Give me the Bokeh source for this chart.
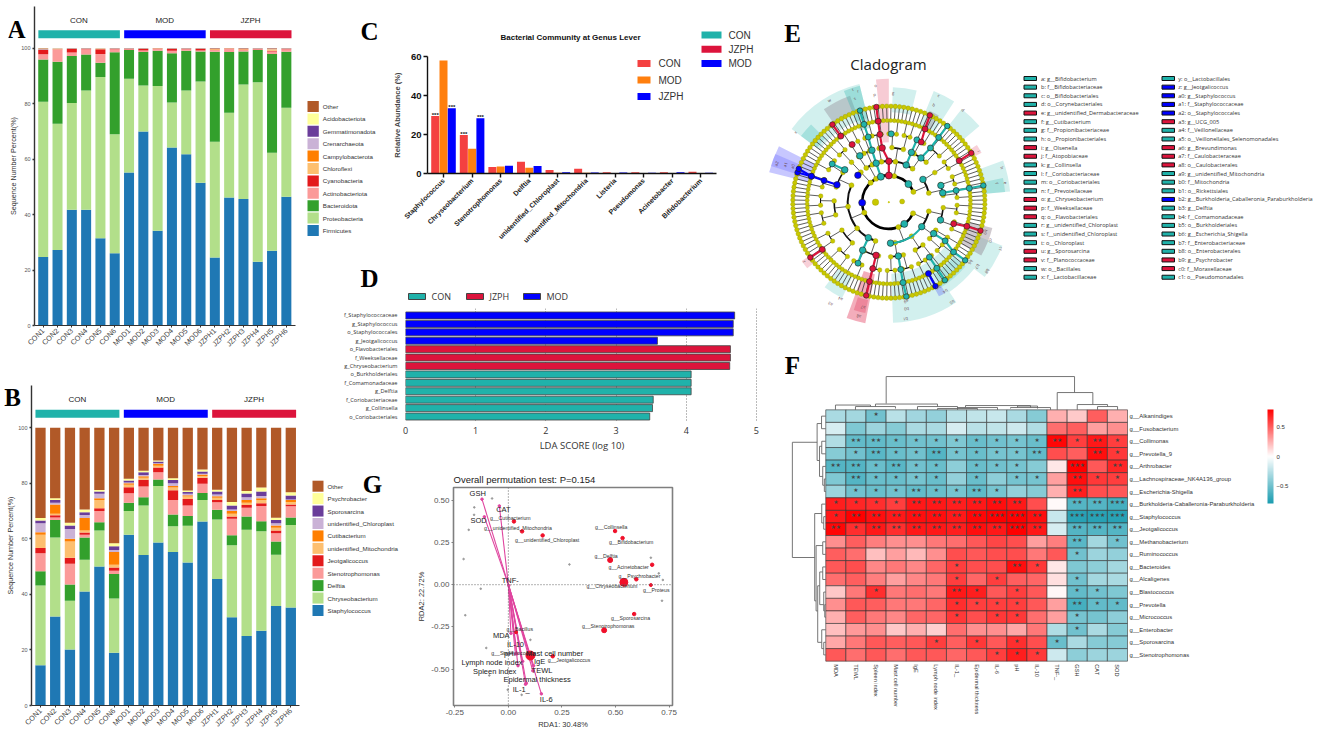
import math
import numpy as np
from bokeh.plotting import figure
from bokeh.models import Column, FixedTicker, LinearColorMapper, ColorBar, Span, ColumnDataSource
from bokeh.core.properties import value
from bokeh.embed import file_html
from bokeh.resources import INLINE

# ---------- data: panels A / B ----------
samples = ["CON1","CON2","CON3","CON4","CON5","CON6","MOD1","MOD2","MOD3","MOD4","MOD5","MOD6",
           "JZPH1","JZPH2","JZPH3","JZPH4","JZPH5","JZPH6"]
group_names = ["CON","MOD","JZPH"]
group_first = [0,6,12]
group_last = [5,11,17]
group_colors = ["#20B2AA","#0000FF","#DC143C"]
paired = ["#1f78b4","#b2df8a","#33a02c","#fb9a99","#e31a1c","#fdbf6f","#ff7f00","#cab2d6","#6a3d9a","#ffff99","#b15928"]

a_names = ["Firmicutes","Proteobacteria","Bacteroidota","Actinobacteriota","Cyanobacteria","Chloroflexi",
           "Campylobacterota","Crenarchaeota","Gemmatimonadota","Acidobacteriota","Other"]
a_firmicutes = [24.7,27.2,41.8,41.8,31.5,26.1,55.2,70.0,34.2,64.2,61.8,51.5,24.5,46.2,45.6,23.0,27.0,46.5]
a_proteo = [80.7,72.8,80.3,84.8,89.7,69.0,89.0,86.6,86.4,80.5,84.8,88.0,66.3,76.8,87.0,87.8,62.3,78.6]
a_bactero = [96.0,95.2,97.2,97.8,94.8,98.6,99.4,98.7,99.1,98.2,99.1,98.9,98.8,98.7,98.9,99.4,98.0,98.8]
a_actino = [97.9,99.6,98.5,99.7,98.0,99.7,99.7,99.2,99.8,99.1,99.7,99.2,99.4,99.8,99.5,99.7,98.9,99.7]
a_cyano = [99.4,99.7,99.8,99.8,99.7,99.8,99.8,99.8,99.9,99.8,99.8,99.8,99.5,99.9,99.6,99.8,99.1,99.8]
a_chloro = [99.5,99.75,99.85,99.85,99.75,99.85,99.85,99.85,99.92,99.85,99.85,99.85,99.7,99.92,99.7,99.85,99.6,99.85]
a_campy = [99.6,99.8,99.88,99.88,99.8,99.88,99.88,99.88,99.94,99.88,99.88,99.88,99.75,99.94,99.75,99.88,99.7,99.88]
a_cren = [99.7,99.85,99.9,99.9,99.85,99.9,99.9,99.9,99.95,99.9,99.9,99.9,99.8,99.95,99.8,99.9,99.8,99.9]
a_gemm = [99.8,99.9,99.93,99.93,99.9,99.93,99.93,99.93,99.96,99.93,99.93,99.93,99.85,99.96,99.85,99.93,99.85,99.93]
a_acido = [99.9,99.95,99.96,99.96,99.95,99.96,99.96,99.96,99.98,99.96,99.96,99.96,99.9,99.98,99.9,99.96,99.9,99.96]
a_other = [100.0]*18
a_tops = [a_firmicutes,a_proteo,a_bactero,a_actino,a_cyano,a_chloro,a_campy,a_cren,a_gemm,a_acido,a_other]

b_names = ["Staphylococcus","Chryseobacterium","Delftia","Stenotrophomonas","Jeotgalicoccus","unidentified_Mitochondria",
           "Cutibacterium","unidentified_Chloroplast","Sporosarcina","Psychrobacter","Other"]
b_staph = [14.5,32.0,20.2,41.0,50.0,19.0,61.5,54.2,58.7,55.3,51.5,66.2,45.5,31.8,25.0,26.9,35.8,35.3]
b_chryseo = [43.2,60.5,37.7,52.5,63.0,38.5,70.0,72.0,79.0,64.5,64.7,74.0,67.0,57.7,63.3,62.7,54.3,65.0]
b_delftia = [48.3,66.8,43.6,60.5,66.0,47.3,73.0,75.0,81.4,68.8,68.2,76.5,70.5,61.3,68.0,66.3,59.0,67.7]
b_steno = [54.8,67.7,51.0,61.5,70.0,48.5,76.4,78.8,84.0,74.0,72.0,79.8,73.2,67.2,71.2,71.8,62.0,71.7]
b_jeot = [56.7,68.5,53.2,62.3,71.0,49.7,78.6,81.3,85.7,77.5,74.3,82.0,74.0,68.0,72.2,72.8,63.0,72.4]
b_mito = [61.5,69.0,59.0,63.0,74.0,50.7,79.5,82.0,86.3,78.5,75.2,82.6,74.8,69.0,73.0,74.0,64.0,73.3]
b_cuti = [62.4,72.4,60.0,67.5,74.6,55.3,80.0,82.5,87.0,79.0,75.7,83.2,75.3,70.0,74.0,74.6,64.8,74.0]
b_chloro = [65.6,73.0,63.5,68.6,76.2,56.0,80.3,83.0,87.2,80.0,76.2,83.4,76.0,70.6,75.0,75.4,65.6,74.2]
b_sporo = [66.6,74.0,64.8,69.6,77.0,57.3,81.0,84.0,87.8,81.2,76.9,84.2,77.0,72.0,76.3,77.0,66.8,75.6]
b_psych = [67.5,74.6,65.8,70.6,77.6,58.4,81.6,84.5,88.2,81.8,77.4,85.0,77.7,73.3,77.2,78.5,67.6,76.8]
b_other = [100.0]*18
b_tops = [b_staph,b_chryseo,b_delftia,b_steno,b_jeot,b_mito,b_cuti,b_chloro,b_sporo,b_psych,b_other]

# ---------- data: panel C ----------
c_genera = ["Staphylococcus","Chryseobacterium","Stenotrophomonas","Delftia","unidentified_Chloroplast",
            "unidentified_Mitochondria","Listeria","Pseudomonas","Acinetobacter","Bifidobacterium"]
c_con = [29.5,19.8,3.3,6.0,1.8,2.5,0.6,0.7,0.7,0.9]
c_mod = [58.0,12.7,3.6,2.9,0.4,0.4,0.3,0.2,0.2,0.2]
c_jzph = [33.5,28.3,4.0,3.8,0.6,0.5,0.5,0.4,0.6,0.4]

# ---------- data: panel D ----------
d_taxa = ["f_Staphylococcaceae","g_Staphylococcus","o_Staphylococcales","g_Jeotgalicoccus","o_Flavobacteriales",
          "f_Weeksellaceae","g_Chryseobacterium","o_Burkholderiales","f_Comamonadaceae","g_Delftia",
          "f_Coriobacteriaceae","g_Collinsella","o_Coriobacteriales"]
d_scores = [4.69,4.67,4.67,3.59,4.63,4.63,4.62,4.07,4.07,4.07,3.53,3.52,3.48]
d_groups = ["MOD","MOD","MOD","MOD","JZPH","JZPH","JZPH","CON","CON","CON","CON","CON","CON"]

# ---------- data: panel G ----------
g_env = ["GSH","CAT","SOD","TNF-","MDA","IL-10","pH","Mast cell number","Lymph node index","IgE","Spleen index","TEWL",
         "Epidermal thickness","IL-1_","IL-6"]
g_env_x = [-.123,-.042,-.112,.002,.012,.04,.033,.1,.067,.118,.045,.114,.084,.08,.154]
g_env_y = [.507,.467,.402,-.005,-.288,-.41,-.41,-.42,-.454,-.48,-.48,-.51,-.584,-.59,-.647]
g_env_lx = [-.143,-.023,-.139,.009,-.033,.033,.002,.216,-.076,.146,-.064,.157,.134,.06,.177]
g_env_ly = [.541,.448,.378,.026,-.304,-.355,-.41,-.408,-.461,-.458,-.513,-.509,-.562,-.621,-.678]
g_gen = ["g__Cutibacterium","g__unidentified_Mitochondria","g__unidentified_Chloroplast","g__Collinsella","g__Bifidobacterium",
         "g__Delftia","g__Acinetobacter","g__Psychrobacter","g__Chryseobacterium","g__Proteus","g__Sporosarcina",
         "g__Stenotrophomonas","g__Bacillus","g__Staphylococcus","g__Jeotgalicoccus"]
g_gen_x = [.026,.064,.16,.498,.533,.475,.671,.597,.539,.665,.587,.447,.036,.103,.207]
g_gen_y = [.375,.316,.292,.318,.276,.146,.118,.032,.014,-.002,-.174,-.27,-.282,-.42,-.424]
g_gen_s = [3.5,3.5,3.5,3.5,3.5,5,3.5,3.5,8,3,3.5,5,3,9,3.5]
g_gen_lx = [.009,.045,.181,.480,.573,.456,.561,.612,.483,.690,.570,.466,.053,.025,.283]
g_gen_ly = [.396,.337,.266,.339,.251,.168,.105,.051,-.010,-.032,-.199,-.246,-.262,-.405,-.446]
g_site_x = [-.076,-.159,-.160,-.185,-.209,-.129,-.201,.285,.665,.702,.721,.717,-.103,-.089,-.003,.062,.103]
g_site_y = [.511,.458,.414,.325,.152,-.024,-.181,.120,.160,.067,.028,-.095,-.375,-.538,-.623,-.653,-.327]

# ---------- data: panel E ----------
e_legend_1 = ["a: g__Bifidobacterium","b: f__Bifidobacteriaceae","c: o__Bifidobacteriales","d: o__Corynebacteriales",
 "e: g__unidentified_Dermabacteraceae","f: g__Cutibacterium","g: f__Propionibacteriaceae","h: o__Propionibacteriales",
 "i: g__Olsenella","j: f__Atopobiaceae","k: g__Collinsella","l: f__Coriobacteriaceae","m: o__Coriobacteriales",
 "n: f__Prevotellaceae","o: g__Chryseobacterium","p: f__Weeksellaceae","q: o__Flavobacteriales","r: g__unidentified_Chloroplast",
 "s: f__unidentified_Chloroplast","t: o__Chloroplast","u: g__Sporosarcina","v: f__Planococcaceae","w: o__Bacillales","x: f__Lactobacillaceae"]
e_legend_1c = "TTTTRTTTRRTTTTRRRTTTRRTT"
e_legend_2 = ["y: o__Lactobacillales","z: g__Jeotgalicoccus","a0: g__Staphylococcus","a1: f__Staphylococcaceae","a2: o__Staphylococcales",
 "a3: g__UCG_005","a4: f__Veillonellaceae","a5: o__Veillonellales_Selenomonadales","a6: g__Brevundimonas","a7: f__Caulobacteraceae",
 "a8: o__Caulobacterales","a9: g__unidentified_Mitochondria","b0: f__Mitochondria","b1: o__Rickettsiales",
 "b2: g__Burkholderia_Caballeronia_Paraburkholderia","b3: g__Delftia","b4: f__Comamonadaceae","b5: o__Burkholderiales",
 "b6: g__Escherichia_Shigella","b7: f__Enterobacteriaceae","b8: o__Enterobacterales","b9: g__Psychrobacter","c0: f__Moraxellaceae","c1: o__Pseudomonadales"]
e_legend_2c = "TBBBBRTTRRRTTTBTTTTTTRRT"
ring_r = [40,80,123,164,205,245,288]
# clade families: each number is one genus node with that many outer-ring leaves
fa = [1,1,1]; fb = [1,1]; fc = [1,1,1,1]
tree = [
 [[[fa,fb],[fb,fa]],[[fa,fb]]],
 [[[fa,fc],[fb,fa]],[[fb,fb],[fa,fb]],[[fa,fa]]],
 [[[fb],[fa]],[[fb]]],
 [[[fa,fb]]],
 [[[fa,fc],[fa,fb]],[[fc,fb],[fa,fc]],[[fa,fa],[fc,fa]],[[fb,fc],[fa,fb]]],
 [[[fa,fb],[fa,fa]],[[fb,fa],[fb]]],
 [[[fa,fb],[fc]],[[fb,fa],[fa,fb]]],
]
chains = [
 ("R",[(1,90),(2,90),(3,97),(4,97.5),(5,97.5),(6,97.5)]), ("T",[(1,107.5),(2,108),(3,108),(4,107.5),(5,107.7),(6,107.5)]),
 ("T",[(3,122)]), ("R",[(4,122.4)]), ("R",[(5,126),(6,126)]), ("T",[(3,143.7),(4,146)]),
 ("B",[(1,181)]), ("B",[(2,139)]), ("B",[(3,161.5),(4,161.5),(5,161.5),(6,162)]), ("B",[(5,161.5),(6,159.7)]),
 ("T",[(1,42.6)]), ("T",[(2,33.7)]), ("T",[(2,65),(3,65.6),(4,65.8)]), ("T",[(3,54),(4,52.5),(5,52.4),(6,52.5)]),
 ("R",[(4,61.7),(5,63.7),(6,64.7)]), ("T",[(4,88)]), ("R",[(5,30.5),(6,30.8)]), ("T",[(3,17.8)]),
 ("T",[(3,9.8),(4,9.8),(5,9.8),(6,10)]), ("T",[(1,-54.5)]), ("T",[(2,-87.7)]), ("T",[(2,-36.7)]),
 ("T",[(3,-35),(4,-34.5),(5,-37.6),(6,-37.3)]), ("T",[(3,-19)]), ("R",[(4,-18.4),(5,-17.2),(6,-17.3)]),
 ("T",[(4,-53.6),(5,-54),(6,-54.3)]), ("T",[(3,-80),(4,-80),(5,-80),(6,-79.5)]), ("B",[(5,-61),(6,-61)]),
 ("R",[(3,-103.5),(4,-103.6),(5,-103.7),(6,-103.6)]), ("T",[(2,-120),(3,-118.6),(4,-116.8)]), ("R",[(5,-144.6),(6,-144.8)]),
]
sectors = [
 (-88,-56,215,362,"T",.2),(-56,-38,215,325,"T",.2),(-38,-21,280,365,"T",.2),(-58,-40,255,300,"T",.2),(-30,-14,240,320,"G",.4),
 (153,166,240,370,"B",.22),(157,163,290,370,"B",.15),(104,143,260,365,"T",.2),(110,125,290,340,"G",.35),(135,143,270,330,"T",.25),
 (104,112,230,360,"T",.3),(90,96,180,370,"R",.22),(76,88,270,345,"T",.2),(57,68,250,360,"T",.2),(60,66,250,300,"G",.35),
 (40,52,285,355,"T",.2),(28,33,287,315,"R",.2),(5,20,280,365,"T",.2),(5,12,285,350,"T",.25),(-110,-101,220,370,"R",.35),
 (-108,-102,300,340,"R",.25),(-127,-116,250,320,"T",.2),(-146,-141,286,315,"R",.2),(-62,-58,288,320,"B",.2),
]
clade_labels = [("a2",48,430),("a1",75,433),("a0",97,438),("w",207,240),("x",105,335),("t",277,207),("s",283,234),("r",292,212),
 ("p",342,222),("o",345,195),("g",398,218),("c",535,225),("b",520,253),("d",607,268),("i",655,392),("h",725,442),("f",708,488),
 ("e",735,487),("c0",690,660),("b9",675,635),("c1",720,685),("b8",680,752),("b7",650,738),("b6",630,725),("b5",575,845),
 ("b4",555,812),("b3",533,800),("b1",435,895),("b0",438,865),("a9",437,843),("a8",295,887),("a7",308,860),("a4",240,835),("a3",210,850),("z",130,725)]

# ---------- data: panel F ----------
f_cols = ["MDA","TEWL","Spleen index","Mast cell number","IgE","Lymph node index","IL-1_","Epidermal thickness","IL-6","pH","IL-10","TNF-_","GSH","CAT","SOD"]
f_rows = ["g__Alkanindiges","g__Fusobacterium","g__Collimonas","g__Prevotella_9","g__Arthrobacter","g__Lachnospiraceae_NK4A136_group",
 "g__Escherichia-Shigella","g__Burkholderia-Caballeronia-Paraburkholderia","g__Staphylococcus","g__Jeotgalicoccus","g__Methanobacterium",
 "g__Ruminococcus","g__Bacteroides","g__Alcaligenes","g__Blastococcus","g__Prevotella","g__Micrococcus","g__Enterobacter","g__Sporosarcina","g__Stenotrophomonas"]
f_values = [
 [-.3,-.32,-.5,-.25,-.33,-.38,-.25,-.22,-.2,-.3,-.42,.25,.17,.5,.25],
 [-.15,-.45,-.35,-.42,-.3,-.3,-.15,-.25,-.22,-.18,-.28,.45,.5,.3,.35],
 [-.27,-.55,-.55,-.52,-.5,-.5,-.45,-.52,-.5,-.48,-.52,.78,.6,.72,.6],
 [-.42,-.5,-.58,-.52,-.5,-.6,-.48,-.52,-.48,-.48,-.55,.55,.5,.75,.62],
 [-.6,-.6,-.52,-.58,-.5,-.52,-.4,-.52,-.5,-.48,-.42,.08,.88,.52,.68],
 [-.45,-.6,-.52,-.52,-.48,-.52,-.38,-.52,-.4,-.48,-.48,.3,.75,.62,.6],
 [-.35,-.5,-.52,-.5,-.55,-.52,-.48,-.56,-.48,-.38,-.42,.25,.7,.55,.52],
 [.7,.68,.65,.6,.72,.72,.7,.72,.75,.72,.55,.02,-.6,-.6,-.65],
 [.72,.8,.75,.72,.75,.75,.72,.78,.85,.92,.75,-.2,-.75,-.75,-.75],
 [.78,.65,.72,.65,.72,.72,.7,.75,.72,.82,.72,-.15,-.6,-.6,-.6],
 [.35,.5,.4,.35,.35,.42,.45,.52,.58,.55,.3,.4,-.58,-.32,-.5],
 [.5,.45,.2,.3,.22,.35,.55,.52,.55,.55,.42,.52,-.5,-.35,-.38],
 [.52,.55,.38,.42,.38,.48,.6,.55,.55,.75,.62,.08,-.45,-.4,-.32],
 [.45,.5,.4,.3,.38,.42,.6,.48,.6,.5,.48,.1,-.5,-.32,-.3],
 [.18,.42,.65,.42,.45,.42,.72,.7,.52,.6,.52,.03,-.55,-.5,-.45],
 [.35,.52,.5,.42,.42,.48,.65,.6,.6,.6,.52,.3,-.65,-.55,-.55],
 [.25,.5,.42,.38,.48,.48,.62,.55,.62,.62,.45,.3,-.48,-.48,-.4],
 [.2,.32,.35,.18,.25,.15,.45,.35,.35,.28,.42,-.28,-.5,-.3,-.42],
 [.28,.42,.52,.5,.52,.6,.5,.62,.52,.65,.55,-.52,-.3,-.42,-.42],
 [.52,.45,.52,.45,.52,.52,.48,.52,.6,.7,.62,-.18,-.4,-.35,-.35],
]
f_stars = [
 [0,0,1,0,0,0,0,0,0,0,0,0,0,0,0],[0]*15,
 [0,2,2,1,1,1,1,1,1,1,1,2,1,2,1],[0,1,2,1,1,2,1,1,1,1,2,0,0,2,1],
 [2,2,1,2,1,1,0,1,1,1,0,0,3,0,2],[0,2,1,1,1,1,0,1,0,1,1,0,2,1,1],
 [0,1,1,1,2,1,1,2,1,0,0,0,2,0,0],[1,1,1,1,2,2,2,2,2,2,0,0,2,2,3],
 [1,2,2,2,2,2,2,2,3,3,2,0,3,3,3],[2,1,2,2,2,2,2,2,2,3,2,0,2,2,2],
 [0,0,0,0,0,0,0,0,0,0,0,0,2,0,1],[0,0,0,0,0,0,0,0,0,0,0,0,1,0,0],
 [0,0,0,0,0,0,1,0,0,2,1,0,0,0,0],[0,0,0,0,0,0,1,0,1,0,0,0,1,0,0],
 [0,0,1,0,0,0,2,1,0,1,0,0,1,1,0],[0,0,0,0,0,0,1,1,1,1,0,0,2,1,1],
 [0,0,0,0,0,0,1,0,1,1,0,0,1,0,0],[0,0,0,0,0,0,0,0,0,0,0,0,1,0,0],
 [0,0,0,0,0,1,0,1,0,1,0,1,0,0,0],[0,0,0,0,0,0,0,0,1,1,1,0,0,0,0],
]
dendro_top = [(885.7,1074,376,403,392),(1056.7,1092.3,392,409.3,404),(1076.7,1107,404,409.3,406),(1097,1117,406,409.3,409.3),
 (835,870,404.5,409.3,406),(855,895,406,409.3,408),(875,937,403.5,406,406),(917,957,406,409.3,408),(937,977,408,409.3,409.3),
 (965,1030,405,407,407),(957,997,407,409.3,409.3),(1010,1050,407,408,409.3),(1017,1037,405.5,407,408)]
dendro_left = [(-1.66,2.58,11.75,-.43,-.55),(-.43,1.09,4.03,-.21,-.31),(-.21,.5,1.5,0,0),(-.31,2.9,5.3,-.2,-.15),(-.2,2.5,3.5,0,0),
 (-.15,4.5,6.0,0,-.07),(-.07,5.5,6.5,0,0),(-.55,8.25,15.2,-.2,-.48),(-.2,7.5,9.0,0,-.1),(-.1,8.5,9.5,0,0),(-.48,10.8,16.0,-.15,-.4),
 (-.15,10.5,11.5,0,0),(-.4,14.0,18.5,-.3,-.2),(-.3,12.9,15.5,-.15,-.1),(-.15,12.5,13.5,0,0),(-.1,14.5,16.0,0,-.05),(-.05,15.5,16.5,0,0),
 (-.2,17.5,19.0,0,-.1),(-.1,18.5,19.5,0,0)]

# ---------- helpers ----------
SANS = "Liberation Sans"
OPEN = "Open Sans"
SERIF = "Liberation Serif"
figs = []

def panel(x0, y0, x1, y1, xr, yr, pad=(0,0,0,0), axes=True):
    l, t, r, b = pad
    kw = {} if axes else dict(x_axis_location=None, y_axis_location=None)
    p = figure(width=int(round(x1-x0))+l+r, height=int(round(y1-y0))+t+b, x_range=xr, y_range=yr,
               toolbar_location=None, output_backend="svg", tools="",
               min_border_left=l, min_border_top=t, min_border_right=r, min_border_bottom=b,
               background_fill_alpha=0, border_fill_alpha=0, outline_line_color=None, frame_align=False,
               styles={"position":"absolute","left":f"{int(round(x0))-l}px","top":f"{int(round(y0))-t}px"}, **kw)
    p.grid.visible = False
    figs.append(p)
    return p

def style_ax(ax, font, size, color="#333333", line=1.0, linecolor="#333333", tick=3, standoff=2):
    ax.major_label_text_font = font
    ax.major_label_text_font_size = size
    ax.major_label_text_color = color
    ax.axis_line_width = line
    ax.axis_line_color = linecolor
    ax.major_tick_line_color = linecolor
    ax.major_tick_line_width = line
    ax.major_tick_out = tick
    ax.major_tick_in = 0
    ax.minor_tick_line_color = None
    ax.major_label_standoff = standoff
    ax.axis_label_text_font = font
    ax.axis_label_text_font_style = "normal"

def txt(p, x, y, s, font=SANS, size="7px", color="#222222", align="center", base="middle", style="normal", angle=0):
    p.text(x=[x], y=[y], text=[s], text_font=value(font), text_font_size=size, text_color=color,
           text_align=align, text_baseline=base, text_font_style=style, angle=[angle])

def stacked(rect, xr, tops, colors):
    p = panel(rect[0], rect[1], rect[2], rect[3], xr, (0, rect[4]), pad=(30,2,8,28))
    idx = np.arange(len(samples))
    bottom = np.zeros(len(samples))
    for col, series in zip(colors, tops):
        t = np.array(series, dtype=float)
        p.vbar(x=idx, bottom=bottom, top=t, width=0.7, fill_color=col, line_color=None)
        bottom = t
    for name, i0, i1, col in zip(group_names, group_first, group_last, group_colors):
        p.quad(left=[i0-.34], right=[i1+.36], bottom=[103.6], top=[106.5], fill_color=col, line_color=None)
        txt(p, (i0+i1)/2, 110, name, size="8px", color="#222222")
    style_ax(p.yaxis[0], SANS, "5.5px", "#555555", 1.4, "#333333", 2)
    style_ax(p.xaxis[0], SANS, "7.3px", "#444444", 1.0, "#333333", 2)
    p.yaxis[0].ticker = FixedTicker(ticks=[0,20,40,60,80,100])
    p.xaxis[0].ticker = FixedTicker(ticks=list(idx))
    p.xaxis[0].major_label_overrides = {int(i): s for i, s in enumerate(samples)}
    p.xaxis[0].major_label_orientation = math.pi/4
    p.yaxis[0].axis_label = "Sequence Number Percent(%)"
    p.yaxis[0].axis_label_text_font_size = "7.2px"
    p.yaxis[0].axis_label_text_color = "#333333"
    p.yaxis[0].axis_label_standoff = 0
    return p

# ---------- overlays in page pixels: letters, legends, titles ----------
ov = panel(8, 8, 1317, 728, (8,1317), (728,8), axes=False)
ov_b = panel(0, 380, 40, 415, (0,40), (415,380), axes=False)

def swatch_legend(names, colors, x0, x1, ys, h, tx, font, size, line=None, lw=0.0):
    ov.quad(left=[x0]*len(names), right=[x1]*len(names), top=[y-h/2 for y in ys], bottom=[y+h/2 for y in ys],
            fill_color=colors, line_color=line, line_width=lw)
    ov.text(x=[tx]*len(names), y=ys, text=names, text_font=value(font), text_font_size=size, text_color="#333333",
            text_align="left", text_baseline="middle")

for s, x, y in [("A",16,29),("C",369,31),("D",369,278),("E",792,33),("F",792,365),("G",372,484)]:
    txt(ov, x, y, s, font=SERIF, size="25px", color="#000000", style="bold")
txt(ov_b, 12, 397, "B", font=SERIF, size="25px", color="#000000", style="bold")

# legend A / B (top row = last stack)
swatch_legend(a_names[::-1], paired[::-1], 307, 318.3, [106+12.4*i for i in range(11)], 11, 322.3, SANS, "6.2px")
swatch_legend(b_names[::-1], paired[::-1], 312, 323, [485.7+12.43*i for i in range(11)], 11, 327, SANS, "6.2px")

# legends C
swatch_legend(["CON","MOD","JZPH"], ["#F44040","#FF7F0E","#0000FF"], 637, 650, [63,79.5,96], 7, 658, SANS, "10px")
swatch_legend(["CON","JZPH","MOD"], group_colors[:1]+group_colors[2:]+group_colors[1:2], 701, 721, [34.5,48.7,63], 7, 728, SANS, "10px")
txt(ov, 570, 37, "Bacterial Community at Genus Lever", size="8px", style="bold", color="#111111")

# legend D
for name, col, x in zip(["CON","JZPH","MOD"], [group_colors[0],group_colors[2],group_colors[1]], [408,466,523]):
    swatch_legend([name], [col], x, x+17, [296], 6, x+23, OPEN, "9px", "#444444", 1.0)

# cladogram title + legend
txt(ov, 888, 63, "Cladogram", font=OPEN, size="15px", color="#222222")
leg_col = {"T":"#20B2AA","R":"#DC143C","B":"#0000FF","G":"#8a7a88"}
ys = [78+8.64*i for i in range(24)]
swatch_legend(e_legend_1, [leg_col[c] for c in e_legend_1c], 1023.5, 1036, ys, 4, 1040.5, OPEN, "5.6px", "#111111", 1.0)
swatch_legend(e_legend_2, [leg_col[c] for c in e_legend_2c], 1161.5, 1174, ys, 4, 1177.7, OPEN, "5.6px", "#111111", 1.0)

# ---------- A ----------
stacked((34,6,295,326,115.1), (-.61,17.64), a_tops, paired)
# ---------- B ----------
stacked((30.7,385,299,706.3,115.2), (-.61,17.59), b_tops, paired)

# ---------- C ----------
pc = panel(426.7,55.7,715.7,177,(-.56,9.55),(0,60),pad=(38,10,10,72))
xi = np.arange(len(c_genera))
for off, vals, col in zip([-.29,0,.29],[c_con,c_mod,c_jzph],["#F44040","#FF7F0E","#0000FF"]):
    pc.vbar(x=xi+off, top=vals, bottom=0, width=.28, fill_color=col, line_color=None)
for i, off, vals in [(0,-.29,c_con),(0,.29,c_jzph),(1,-.29,c_con),(1,.29,c_jzph)]:
    pc.text(x=[i+off], y=[vals[i]+.5], text=["***"], text_font=value(SANS), text_font_size="6px", text_font_style="bold",
            text_align="center", text_baseline="middle", text_color="#111111")
style_ax(pc.yaxis[0], SANS, "9.5px", "#111111", 1.4, "#111111", 4)
style_ax(pc.xaxis[0], SANS, "7px", "#222222", 1.4, "#111111", 4)
pc.yaxis[0].major_label_text_font_style = "bold"
pc.xaxis[0].major_label_text_font_style = "bold"
pc.yaxis[0].ticker = FixedTicker(ticks=[0,20,40,60])
pc.xaxis[0].ticker = FixedTicker(ticks=list(xi))
pc.xaxis[0].major_label_overrides = {int(i): s for i, s in enumerate(c_genera)}
pc.xaxis[0].major_label_orientation = math.pi/4
pc.yaxis[0].axis_label = "Relative Abundance (%)"
pc.yaxis[0].axis_label_text_font_size = "7.5px"
pc.yaxis[0].axis_label_text_font_style = "bold"
pc.yaxis[0].axis_label_standoff = 6

# ---------- D ----------
pd_ = panel(405.3,307.7,758,422,(0,5.03),(12.71,-.83),pad=(70,2,6,32))
col_of = {"CON":group_colors[0],"MOD":group_colors[1],"JZPH":group_colors[2]}
yi = np.arange(len(d_taxa))
pd_.xgrid.visible = True
pd_.xgrid[0].ticker = FixedTicker(ticks=[0,1,2,3,4,5])
pd_.xgrid[0].grid_line_color = "#777777"
pd_.xgrid[0].grid_line_dash = "1 2"
pd_.hbar(y=yi, left=0, right=d_scores, height=.83, fill_color=[col_of[g] for g in d_groups], line_color="#444444", line_width=0.8)
style_ax(pd_.yaxis[0], OPEN, "5.6px", "#333333", 0, "#ffffff", 0, 8)
style_ax(pd_.xaxis[0], OPEN, "9px", "#333333", 0, "#ffffff", 0, 4)
pd_.yaxis[0].axis_line_color = None; pd_.yaxis[0].major_tick_line_color = None
pd_.xaxis[0].axis_line_color = None; pd_.xaxis[0].major_tick_line_color = None
pd_.yaxis[0].ticker = FixedTicker(ticks=list(yi))
pd_.yaxis[0].major_label_overrides = {int(i): s for i, s in enumerate(d_taxa)}
pd_.xaxis[0].ticker = FixedTicker(ticks=[0,1,2,3,4,5])
pd_.xaxis[0].axis_label = "LDA SCORE (log 10)"
pd_.xaxis[0].axis_label_text_font_size = "9.5px"
pd_.xaxis[0].axis_label_text_color = "#333333"
pd_.xaxis[0].axis_label_standoff = 2

# ---------- G ----------
pg = panel(453.3,486.7,672,705,(-.256,.766),(-.716,.576),pad=(40,2,8,26))
pg.outline_line_color = "#7f7f7f"; pg.outline_line_width = 1.6
pg.add_layout(Span(location=0, dimension="height", line_color="#666666", line_dash="1 2", line_width=1))
pg.add_layout(Span(location=0, dimension="width", line_color="#666666", line_dash="1 2", line_width=1))
pg.scatter(x=g_site_x, y=g_site_y, size=1.6, color="#999999")
pg.segment(x0=[0]*len(g_env), y0=[0]*len(g_env), x1=g_env_x, y1=g_env_y, line_color="#E0459F", line_width=1.1)
pg.scatter(x=g_env_x, y=g_env_y, size=2.5, color="#E0459F")
pg.scatter(x=g_gen_x, y=g_gen_y, size=g_gen_s, color="#F0102A")
pg.text(x=g_gen_lx, y=g_gen_ly, text=g_gen, text_font=value(SANS), text_font_size="5.2px", text_color="#333333", text_align="center", text_baseline="middle")
pg.text(x=g_env_lx, y=g_env_ly, text=g_env, text_font=value(SANS), text_font_size="7.5px", text_color="#222222", text_align="center", text_baseline="middle")
for ax, t in ((pg.xaxis[0],[-.25,0,.25,.5,.75]),(pg.yaxis[0],[-.5,-.25,0,.25,.5])):
    style_ax(ax, SANS, "8px", "#555555", 0, "#7f7f7f", 2)
    ax.axis_line_color = None
    ax.major_tick_line_width = 1
    ax.ticker = FixedTicker(ticks=t)
    ax.major_label_overrides = {v: f"{v:.2f}" for v in t}
pg.xaxis[0].axis_label = "RDA1: 30.48%"; pg.yaxis[0].axis_label = "RDA2: 22.72%"
for ax in (pg.xaxis[0], pg.yaxis[0]):
    ax.axis_label_text_font_size = "7.5px"; ax.axis_label_text_color = "#333333"; ax.axis_label_standoff = 2
txt(ov, 453, 479, "Overall permutation test: P=0.154", size="9.5px", align="left")

# ---------- E ----------
pe = panel(760,50,1020,330,(-385,395),(-385,455),axes=False)
cmap = {"T":"#20B2AA","R":"#DC143C","B":"#0000FF","G":"#8a7a88"}
def polar(ring, ang):
    r = ring_r[ring]; a = math.radians(ang)
    return r*math.cos(a), r*math.sin(a)
for a0,a1,r0,r1,c,al in sectors:
    pe.annular_wedge(x=[0], y=[0], inner_radius=[r0], outer_radius=[r1], start_angle=[a0], end_angle=[a1],
                     start_angle_units="deg", end_angle_units="deg", fill_color=cmap[c], fill_alpha=al, line_color=None)
# tree layout (structure)
def count(n):
    return n if isinstance(n,int) else sum(count(c) for c in n)
N = count(tree)
step = 360.0/N
nodes = []; arcs = []; stems = []
def walk(node, ring, start):
    if isinstance(node,int):
        angs = [start+step*(i+.5) for i in range(node)]
        for a in angs: nodes.append((ring+1,a))
        mid = sum(angs)/len(angs)
        if node>1: arcs.append((ring+1,angs[0],angs[-1],.8))
        for a in angs: stems.append((ring,ring+1,mid if node==1 else a,a))
        return mid
    mids=[]; s=start
    for ch in node:
        m = walk(ch, ring+1, s); nodes.append((ring+1,m)); mids.append(m); s += count(ch)*step
    mid = sum(mids)/len(mids)
    if len(mids)>1:
        arcs.append((ring+1,min(mids),max(mids),{1:2.6,2:2.0,3:1.6,4:1.1,5:.8}.get(ring+1,.8)))
    for m in [mid]:
        stems.append((ring,ring+1,m,m))
    return mid
mids=[]; s=0.0
for ph in tree:
    m = walk(ph,1,s); nodes.append((1,m)); mids.append(m); s += count(ph)*step
pe.arc(x=[0],y=[0],radius=[ring_r[1]],start_angle=[min(mids)],end_angle=[max(mids)],start_angle_units="deg",end_angle_units="deg",line_color="#000000",line_width=2.6)
for ring,a0,a1,lw in arcs:
    pe.arc(x=[0],y=[0],radius=[ring_r[ring]],start_angle=[a0],end_angle=[a1],start_angle_units="deg",end_angle_units="deg",line_color="#111111",line_width=lw)
sx0=[];sy0=[];sx1=[];sy1=[]
for r0,r1,a0,a1 in stems:
    x0,y0=polar(r0,a0); x1,y1=polar(r1,a1); sx0.append(x0);sy0.append(y0);sx1.append(x1);sy1.append(y1)
pe.segment(x0=sx0,y0=sy0,x1=sx1,y1=sy1,line_color="#333333",line_width=.8)
size_by_ring = [5.2,5.2,5.0,4.8,4.5,4.2,4.6]
pe.scatter(x=[polar(r,a)[0] for r,a in nodes], y=[polar(r,a)[1] for r,a in nodes], size=[size_by_ring[r] for r,a in nodes],
           fill_color="#C8C800", line_color="#8a8a00", line_width=.3)
pe.scatter(x=[polar(0,180)[0],polar(0,3)[0]], y=[polar(0,180)[1],polar(0,3)[1]], size=[6.5,5], fill_color="#C8C800", line_color="#8a8a00", line_width=.3)
pe.scatter(x=[0],y=[0],size=1.2,color="#C8C800")
pe.arc(x=[0],y=[0],radius=[ring_r[2]],start_angle=[-87.7],end_angle=[-36.7],start_angle_units="deg",end_angle_units="deg",line_color=cmap["T"],line_width=2)
for c, pts in chains:
    xs=[polar(r,a)[0] for r,a in pts]; ys_=[polar(r,a)[1] for r,a in pts]
    if len(pts)>1:
        pe.line(x=xs,y=ys_,line_color=cmap[c],line_width=2.2)
    pe.scatter(x=xs,y=ys_,size=[{1:7,2:6.5,3:6.5,4:6,5:6,6:5.5}[r] for r,a in pts],fill_color=cmap[c],line_color="#222222",line_width=.6)
pe.text(x=[l[1]-385 for l in clade_labels], y=[545-l[2] for l in clade_labels], text=[l[0] for l in clade_labels],
        angle=[math.atan2(545-l[2],l[1]-385)-math.pi/2 for l in clade_labels],
        text_font=value(OPEN), text_font_size="4.2px", text_color="#6a4a50", text_align="center", text_baseline="middle")

# ---------- F ----------
pf = panel(780,345,1300,720,(-2.25,23.6),(24.72,-5.12),axes=False)
def lerp(c0,c1,t):
    return "#%02x%02x%02x"%tuple(int(round(a+(b-a)*t)) for a,b in zip(c0,c1))
teal=(0x1a,0x9c,0xb0); white=(255,255,255); red=(255,0,0)
palette=[lerp(teal,white,i/127) for i in range(128)]+[lerp(white,red,i/127) for i in range(128)]
mapper=LinearColorMapper(palette=palette,low=-.8,high=.8)
cx=[];ry=[];vv=[];sx=[];sy=[];st=[]
for i,row in enumerate(f_values):
    for j,v in enumerate(row):
        cx.append(j+.5);ry.append(i+.5);vv.append(v)
        if f_stars[i][j]:
            sx.append(j+.5);sy.append(i+.36);st.append("★"*f_stars[i][j])
pf.rect(x="x",y="y",width=1,height=1,fill_color={"field":"v","transform":mapper},line_color="#333333",line_width=.7,line_alpha=.85,
        source=ColumnDataSource(dict(x=cx,y=ry,v=vv)))
pf.text(x=sx,y=sy,text=st,text_font=value("DejaVu Sans"),text_font_size="5.8px",text_color="#444444",text_align="center",text_baseline="middle")
pf.text(x=[15.1]*20,y=[i+.5 for i in range(20)],text=f_rows,text_font=value(SANS),text_font_size="5.9px",text_color="#333333",text_align="left",text_baseline="middle")
pf.text(x=[j+.5 for j in range(15)],y=[20.25]*15,text=f_cols,angle=[-math.pi/2]*15,text_font=value(SANS),text_font_size="5.6px",text_color="#333333",text_align="left",text_baseline="middle")
seg=[]
def cu(px): return (px-825.3)/20.11
def ru(py): return (py-409.3)/12.57
for xl,xr_,yt,yl,yr_ in dendro_top:
    seg.append(([cu(xl),cu(xl),cu(xr_),cu(xr_)],[ru(yl),ru(yt),ru(yt),ru(yr_)]))
for xb,r0,r1,e0,e1 in dendro_left:
    seg.append(([e0,xb,xb,e1],[r0,r0,r1,r1]))
pf.multi_line(xs=[s[0] for s in seg],ys=[s[1] for s in seg],line_color="#666666",line_width=.9)
cb=ColorBar(color_mapper=mapper,location=(487,217),width=6,height=94,padding=0,margin=0,ticker=FixedTicker(ticks=[-.5,0,.5]),
            major_tick_line_color=None,bar_line_color=None,major_label_text_font_size="6px",major_label_text_font=SANS,
            major_label_text_color="#333333",background_fill_alpha=0,border_line_color=None,label_standoff=3)
pf.add_layout(cb,"center")

root = Column(children=figs, width=1309, height=720, spacing=0, sizing_mode="fixed")
open("out.html","w").write(file_html(root, INLINE))
